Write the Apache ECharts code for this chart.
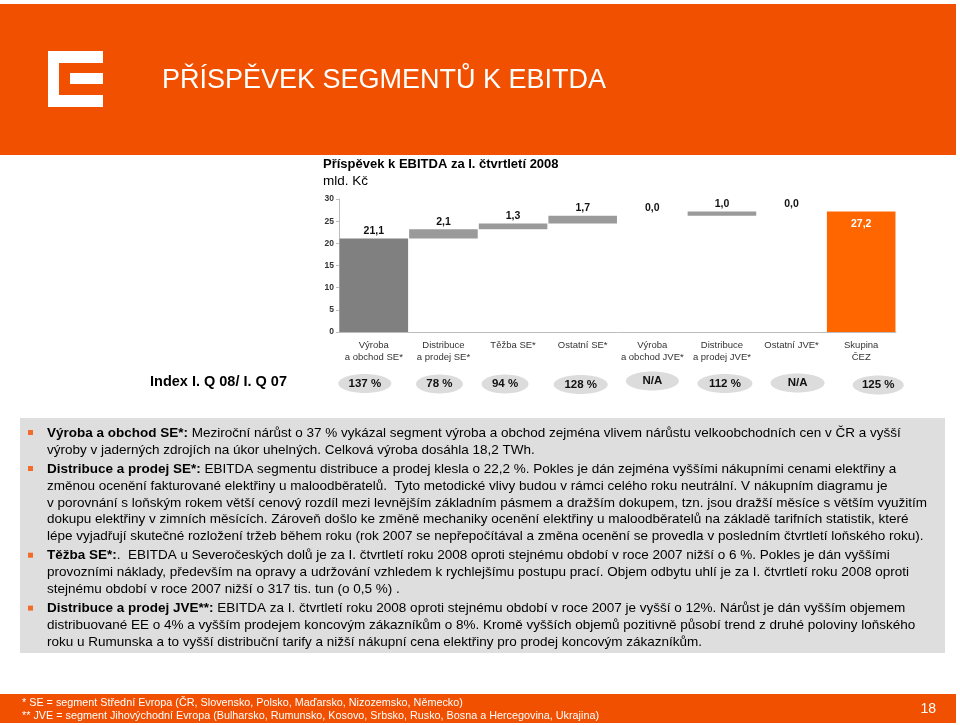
<!DOCTYPE html>
<html>
<head>
<meta charset="utf-8">
<script src="https://cdn.jsdelivr.net/npm/echarts@6/dist/echarts.min.js"></script>
<style>
html,body{margin:0;padding:0;background:#fff;}
#chart{width:960px;height:725px;}
</style>
</head>
<body>
<div id="chart"></div>
<script>
// ---- data ----
const categories = ['Výroba\na obchod SE*', 'Distribuce\na prodej SE*', 'Těžba SE*', 'Ostatní SE*',
  'Výroba\na obchod JVE*', 'Distribuce\na prodej JVE*', 'Ostatní JVE*', 'Skupina\nČEZ'];
const contributions = [21.1, 2.1, 1.3, 1.7, 0.0, 1.0, 0.0];
const groupTotal = 27.2;
const yMin = 0, yMax = 30, yInterval = 5;
const indexLabels = ['137 %', '78 %', '94 %', '128 %', 'N/A', '112 %', 'N/A', '125 %'];

const chartTitle = 'Příspěvek k EBITDA za I. čtvrtletí 2008';
const unitLabel = 'mld. Kč';
const slideTitle = 'PŘÍSPĚVEK SEGMENTŮ K EBITDA';
const indexTitle = 'Index I. Q 08/ I. Q 07';

const paragraphs = [
  ['Výroba a obchod SE*:', [' Meziroční nárůst o 37 % vykázal segment výroba a obchod zejména vlivem nárůstu velkoobchodních cen v ČR a vyšší',
    'výroby v jaderných zdrojích na úkor uhelných. Celková výroba dosáhla 18,2 TWh.']],
  ['Distribuce a prodej SE*:', [' EBITDA segmentu distribuce a prodej klesla o 22,2 %. Pokles je dán zejména vyššími nákupními cenami elektřiny a',
    'změnou ocenění fakturované elektřiny u maloodběratelů.  Tyto metodické vlivy budou v rámci celého roku neutrální. V nákupním diagramu je',
    'v porovnání s loňským rokem větší cenový rozdíl mezi levnějším základním pásmem a dražším dokupem, tzn. jsou dražší měsíce s větším využitím',
    'dokupu elektřiny v zimních měsících. Zároveň došlo ke změně mechaniky ocenění elektřiny u maloodběratelů na základě tarifních statistik, které',
    'lépe vyjadřují skutečné rozložení tržeb během roku (rok 2007 se nepřepočítával a změna ocenění se provedla v posledním čtvrtletí loňského roku).']],
  ['Těžba SE*:', ['.  EBITDA u Severočeských dolů je za I. čtvrtletí roku 2008 oproti stejnému období v roce 2007 nižší o 6 %. Pokles je dán vyššími',
    'provozními náklady, především na opravy a udržování vzhledem k rychlejšímu postupu prací. Objem odbytu uhlí je za I. čtvrtletí roku 2008 oproti',
    'stejnému období v roce 2007 nižší o 317 tis. tun (o 0,5 %) .']],
  ['Distribuce a prodej JVE**:', [' EBITDA za I. čtvrtletí roku 2008 oproti stejnému období v roce 2007 je vyšší o 12%. Nárůst je dán vyšším objemem',
    'distribuované EE o 4% a vyšším prodejem koncovým zákazníkům o 8%. Kromě vyšších objemů pozitivně působí trend z druhé poloviny loňského',
    'roku u Rumunska a to vyšší distribuční tarify a nižší nákupní cena elektřiny pro prodej koncovým zákazníkům.']]
];
const footnotes = ['* SE = segment Střední Evropa (ČR, Slovensko, Polsko, Maďarsko, Nizozemsko, Německo)',
  '** JVE = segment Jihovýchodní Evropa (Bulharsko, Rumunsko, Kosovo, Srbsko, Rusko, Bosna a Hercegovina, Ukrajina)'];
const pageNumber = '18';

// ---- styles / layout ----
const FONT = '"Liberation Sans", Arial, sans-serif';
const ORANGE = '#F05000';
const TOTAL_ORANGE = '#FF6600';
const FIRST_GRAY = '#808080';
const STEP_GRAY = '#9A9A9A';
const ovalDx = [-9, -4, -8, -2, 0, 3, 6, 17];
const ovalCy = [383.5, 384, 384, 384.5, 381, 383.5, 383, 385];
const ovalRx = [26.5, 23.5, 23.5, 27, 26.5, 27.5, 27, 25.5];

// ---- waterfall derived ----
const values = contributions.concat([groupTotal]);
const bases = [];
let run = 0;
contributions.forEach(v => { bases.push(run); run += v; });
bases.push(0);
const fmt = v => v.toFixed(1).replace('.', ',');

const chart = echarts.init(document.getElementById('chart'), null, {renderer: 'canvas'});

const valueData = values.map((v, i) => {
  if (i === values.length - 1) {
    return {value: v, itemStyle: {color: TOTAL_ORANGE},
      label: {position: 'insideTop', color: '#fff', distance: 7}};
  }
  return {value: v, itemStyle: {color: i === 0 ? FIRST_GRAY : STEP_GRAY}};
});

chart.setOption({
  animation: false,
  textStyle: {fontFamily: FONT},
  grid: {left: 339, right: 64, top: 199, bottom: 393, containLabel: false},
  xAxis: {
    type: 'category', data: categories,
    axisLine: {show: true, lineStyle: {color: '#BDBDBD', width: 1}},
    axisTick: {show: false},
    axisLabel: {interval: 0, color: '#333', fontSize: 9.5, lineHeight: 12.5, margin: 7, fontFamily: FONT}
  },
  yAxis: {
    type: 'value', min: yMin, max: yMax, interval: yInterval,
    axisLine: {show: true, lineStyle: {color: '#BDBDBD'}},
    axisTick: {show: true, length: 3, lineStyle: {color: '#BDBDBD'}},
    splitLine: {show: false},
    axisLabel: {color: '#333', fontSize: 8.5, fontWeight: 'bold', margin: 5, fontFamily: FONT}
  },
  series: [
    {type: 'bar', stack: 'w', data: bases, itemStyle: {color: 'rgba(0,0,0,0)'}, silent: true,
      barCategoryGap: '1.5%'},
    {type: 'bar', stack: 'w', data: valueData, barCategoryGap: '1.5%',
      label: {show: true, position: 'top', distance: 2, color: '#111', fontSize: 10.5, fontWeight: 'bold',
        fontFamily: FONT, formatter: p => fmt(p.value)}}
  ]
});

// ---- slide decorations ----
const g = [];
// header
g.push({type: 'rect', shape: {x: 0, y: 4, width: 956, height: 151}, style: {fill: ORANGE}, silent: true});
// logo
g.push({type: 'rect', shape: {x: 48, y: 51, width: 11, height: 56}, style: {fill: '#fff'}});
g.push({type: 'rect', shape: {x: 48, y: 51, width: 55, height: 12}, style: {fill: '#fff'}});
g.push({type: 'rect', shape: {x: 48, y: 95, width: 55, height: 12}, style: {fill: '#fff'}});
g.push({type: 'rect', shape: {x: 70, y: 73, width: 33, height: 11}, style: {fill: '#fff'}});
g.push({type: 'text', style: {text: slideTitle, x: 162, y: 81, fill: '#fff', fontSize: 27, fontFamily: FONT, verticalAlign: 'middle'}});
// chart titles
g.push({type: 'text', style: {text: chartTitle, x: 323, y: 164, fill: '#000', fontSize: 13, fontWeight: 'bold', fontFamily: FONT, verticalAlign: 'middle'}});
g.push({type: 'text', style: {text: unitLabel, x: 323, y: 181, fill: '#000', fontSize: 13.5, fontFamily: FONT, verticalAlign: 'middle'}});
// index row
g.push({type: 'text', style: {text: indexTitle, x: 150, y: 382, fill: '#000', fontSize: 14.5, fontWeight: 'bold', fontFamily: FONT, verticalAlign: 'middle'}});
indexLabels.forEach((t, i) => {
  const cx = chart.convertToPixel({xAxisIndex: 0}, i) + ovalDx[i];
  g.push({type: 'ellipse', shape: {cx: cx, cy: ovalCy[i], rx: ovalRx[i], ry: 9.5}, style: {fill: '#DCDCDC'}});
  g.push({type: 'text', style: {text: t, x: cx, y: ovalCy[i], fill: '#111', fontSize: 11.5, fontWeight: 'bold', fontFamily: FONT, align: 'center', verticalAlign: 'middle'}});
});
// text box
g.push({type: 'rect', shape: {x: 20, y: 418, width: 925, height: 235}, style: {fill: '#DEDEDE'}});
const lineH = 16.9, paraGap = 2.2, bodySize = 13.5;
let y = 433;
paragraphs.forEach(([head, lines]) => {
  g.push({type: 'rect', shape: {x: 28, y: y - 3, width: 5, height: 5}, style: {fill: '#F26B2A'}});
  lines.forEach((ln, k) => {
    const txt = k === 0 ? '{b|' + head + '}' + ln : ln;
    g.push({type: 'text', style: {text: txt, x: 47, y: y, fill: '#000', fontSize: bodySize, fontFamily: FONT, verticalAlign: 'middle',
      rich: {b: {fontWeight: 'bold', fontSize: bodySize, fontFamily: FONT, fill: '#000'}}}});
    y += lineH;
  });
  y += paraGap;
});
// footer
g.push({type: 'rect', shape: {x: 0, y: 694, width: 956, height: 29}, style: {fill: ORANGE}});
g.push({type: 'text', style: {text: footnotes[0], x: 22, y: 703, fill: '#fff', fontSize: 10.8, fontFamily: FONT, verticalAlign: 'middle'}});
g.push({type: 'text', style: {text: footnotes[1], x: 22, y: 716, fill: '#fff', fontSize: 10.8, fontFamily: FONT, verticalAlign: 'middle'}});
g.push({type: 'text', style: {text: pageNumber, x: 936, y: 709, fill: '#fff', fontSize: 14, fontFamily: FONT, align: 'right', verticalAlign: 'middle'}});

chart.setOption({graphic: {elements: g}});
</script>
</body>
</html>
